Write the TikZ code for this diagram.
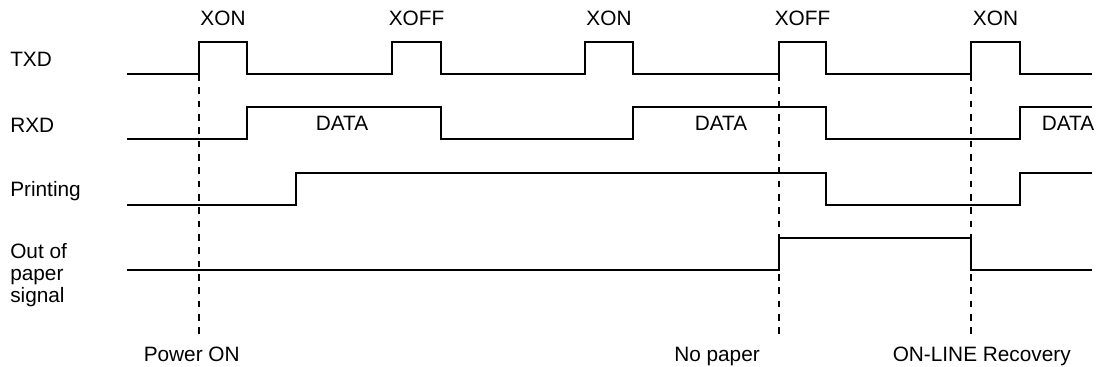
\documentclass[tikz,border=0pt]{standalone}
\usepackage{fontspec}
\setmainfont{Liberation Sans}
\begin{document}
\begin{tikzpicture}[x=0.75pt,y=-0.75pt,
  wave/.style={line width=1.35pt,line join=miter},
  marker/.style={line width=0.85pt,dash pattern=on 5pt off 5pt},
  lbl/.style={inner sep=0pt,font=\fontsize{15.6}{16.3}\selectfont}]
\useasboundingbox (0,0) rectangle (1097,367);
\clip (0,0) rectangle (1097,367);
% signal names
\node[lbl,anchor=base west] (ntxd) at (10,66.5) {TXD};
\node[lbl,anchor=base west] (nrxd) at (10,132.3) {RXD};
\node[lbl,anchor=base west] (nprt) at (10,196.7) {Printing};
\node[lbl,anchor=north west,align=left] (nout) at (10,243.5) {Out of\\paper\\signal};
% top labels
\node[lbl,anchor=base] (t1) at (223,26) {XON};
\node[lbl,anchor=base] (t2) at (416.5,26) {XOFF};
\node[lbl,anchor=base] (t3) at (609,26) {XON};
\node[lbl,anchor=base] (t4) at (802.5,26) {XOFF};
\node[lbl,anchor=base] (t5) at (995.5,26) {XON};
% data labels
\node[lbl,anchor=base] (d1) at (342,131) {DATA};
\node[lbl,anchor=base] (d2) at (721,131) {DATA};
\node[lbl,anchor=base] (d3) at (1068,131) {DATA};
% bottom labels
\node[lbl,anchor=base west] (b1) at (143.5,361.5) {Power ON};
\node[lbl,anchor=base west] (b2) at (674,361.5) {No paper};
\node[lbl,anchor=base west] (b3) at (892.5,361.5) {ON-LINE Recovery};
% TXD
\draw[wave] (127,74) -- (199,74) -- (199,42) -- (247,42) -- (247,74)
  -- (392,74) -- (392,42) -- (441,42) -- (441,74)
  -- (585,74) -- (585,42) -- (633,42) -- (633,74)
  -- (779,74) -- (779,42) -- (826,42) -- (826,74)
  -- (971,74) -- (971,42) -- (1020,42) -- (1020,74) -- (1092,74);
% RXD
\draw[wave] (127,139) -- (247,139) -- (247,107) -- (441,107) -- (441,139)
  -- (633,139) -- (633,107) -- (826,107) -- (826,139)
  -- (1020,139) -- (1020,107) -- (1092,107);
% Printing
\draw[wave] (127,205) -- (296,205) -- (296,173) -- (826,173)
  -- (826,205) -- (1020,205) -- (1020,173) -- (1092,173);
% Out of paper
\draw[wave] (127,270) -- (779,270) -- (779,238) -- (971,238)
  -- (971,270) -- (1092,270);
% event markers
\coordinate (m1a) at (199,74); \coordinate (m1b) at (199,334);
\coordinate (m2a) at (779,74); \coordinate (m2b) at (779,334);
\coordinate (m3a) at (971,74); \coordinate (m3b) at (971,334);
\draw[marker] (m1a) -- (m1b);
\draw[marker] (m2a) -- (m2b);
\draw[marker] (m3a) -- (m3b);
\end{tikzpicture}
\end{document}
